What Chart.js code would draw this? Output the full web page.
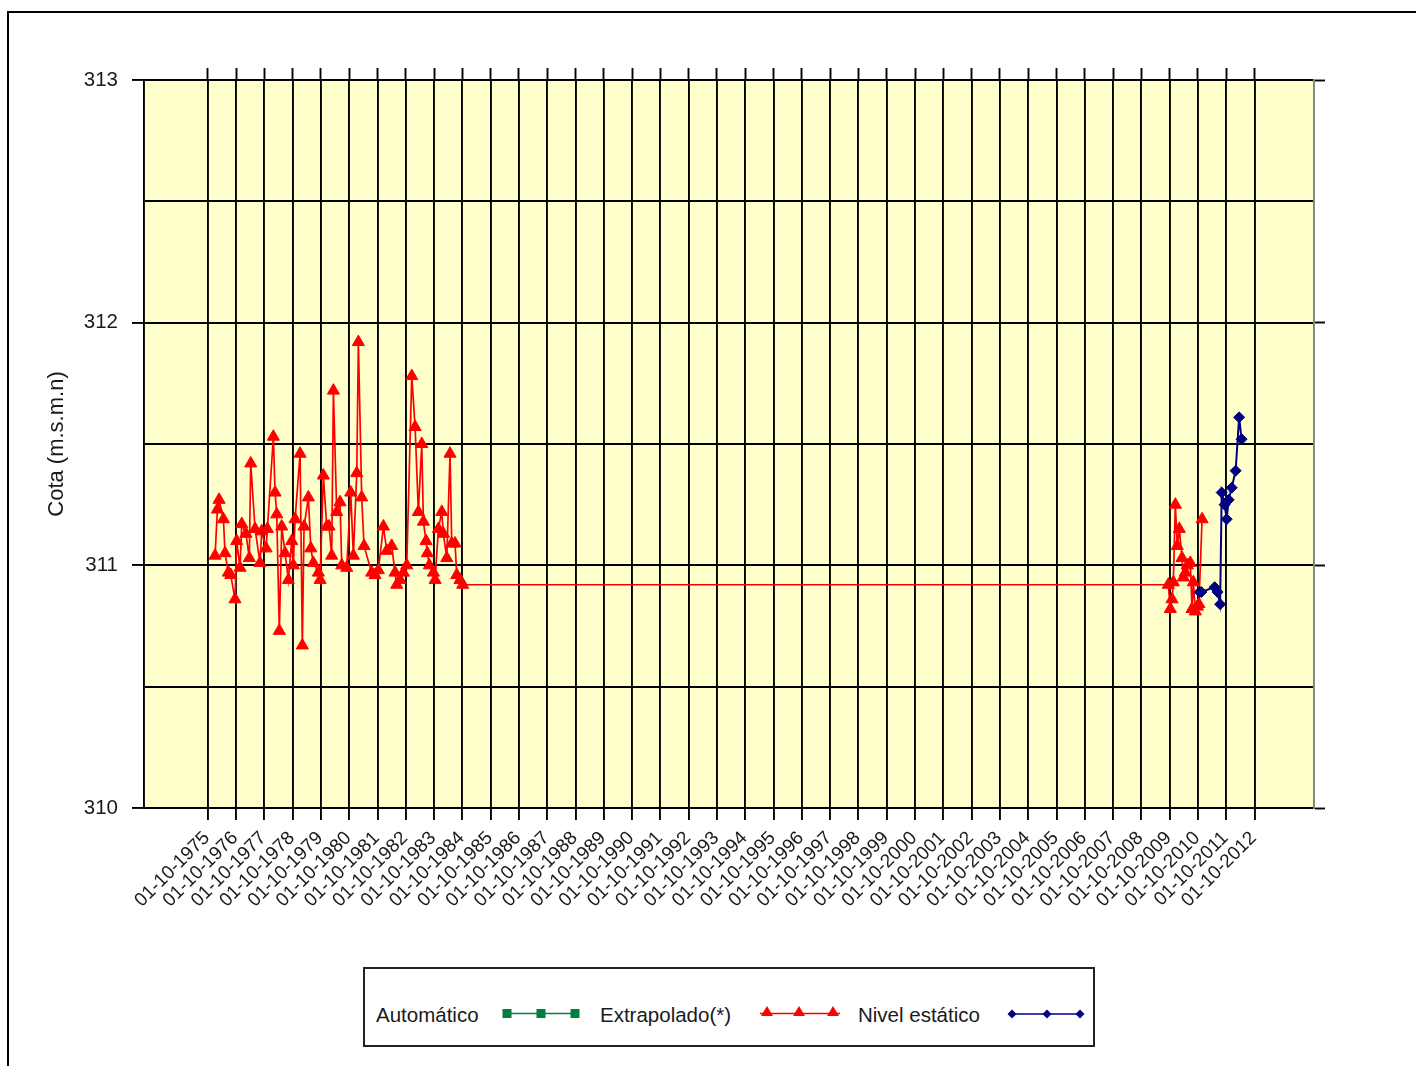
<!DOCTYPE html>
<html lang="es">
<head>
<meta charset="utf-8">
<title>Cota (m.s.m.n)</title>
<script src="https://cdn.jsdelivr.net/npm/chart.js@4.4.1/dist/chart.umd.min.js"></script>
<style>
  html, body { margin: 0; padding: 0; background: #fff; width: 1416px; height: 1066px; overflow: hidden; }
  #marco { position: absolute; left: 7px; top: 11px; width: 1500px; height: 1200px; border: 2px solid #000; box-sizing: border-box; }
  #grafico { position: absolute; left: 0; top: 0; }
  #leyenda { position: absolute; left: 363px; top: 967px; width: 732px; height: 80px; border: 2px solid #222;
             box-sizing: border-box; background: #fff; font: 20.5px "Liberation Sans", Arial, sans-serif; color: #1a1a1a; }
  #leyenda .t { position: absolute; top: 35px; line-height: 22px; white-space: nowrap; }
  #leyenda svg { position: absolute; top: 36px; overflow: visible; }
</style>
</head>
<body>
<div id="marco"></div>
<canvas id="grafico" width="1416" height="960"></canvas>
<div id="leyenda">
  <span class="t" style="left:11px">Automático</span>
  <svg style="left:135px" width="84" height="20">
    <line x1="7" y1="8.5" x2="75" y2="8.5" stroke="#008040" stroke-width="1.5"/>
    <rect x="2.5" y="4" width="9" height="9" fill="#008040"/>
    <rect x="36.5" y="4" width="9" height="9" fill="#008040"/>
    <rect x="70.5" y="4" width="9" height="9" fill="#008040"/>
  </svg>
  <span class="t" style="left:235px">Extrapolado(*)</span>
  <svg style="left:395px" width="84" height="20">
    <line x1="0" y1="8.5" x2="80" y2="8.5" stroke="#ff0000" stroke-width="1.5"/>
    <polygon points="1,11 13,11 7,1" fill="#ff0000"/>
    <polygon points="33,11 45,11 39,1" fill="#ff0000"/>
    <polygon points="67,11 79,11 73,1" fill="#ff0000"/>
  </svg>
  <span class="t" style="left:493px">Nivel estático</span>
  <svg style="left:641px" width="84" height="20">
    <line x1="6" y1="9" x2="76" y2="9" stroke="#000080" stroke-width="1.5"/>
    <polygon points="6,4.5 10.5,9 6,13.5 1.5,9" fill="#000080"/>
    <polygon points="41,4.5 45.5,9 41,13.5 36.5,9" fill="#000080"/>
    <polygon points="74,4.5 78.5,9 74,13.5 69.5,9" fill="#000080"/>
  </svg>
</div>
<script>
// Eje de fechas: una marca por año hidrológico (1 de octubre)
const etiquetasFechas = [
  '01-10-1975', '01-10-1976', '01-10-1977', '01-10-1978', '01-10-1979', '01-10-1980',
  '01-10-1981', '01-10-1982', '01-10-1983', '01-10-1984', '01-10-1985', '01-10-1986',
  '01-10-1987', '01-10-1988', '01-10-1989', '01-10-1990', '01-10-1991', '01-10-1992',
  '01-10-1993', '01-10-1994', '01-10-1995', '01-10-1996', '01-10-1997', '01-10-1998',
  '01-10-1999', '01-10-2000', '01-10-2001', '01-10-2002', '01-10-2003', '01-10-2004',
  '01-10-2005', '01-10-2006', '01-10-2007', '01-10-2008', '01-10-2009', '01-10-2010',
  '01-10-2011', '01-10-2012'
];
const rangoFechas = ['30-06-1973', '08-11-2014'];
const rangoCota = [310, 313];

// Serie "Automático": sin registros en el periodo
const automaticoFechas = [];
const automaticoCota = [];

// Serie "Extrapolado(*)"
const extrapoladoFechas = [
  '03-01-1976', '02-02-1976', '24-02-1976', '20-04-1976', '11-05-1976', '23-06-1976',
  '24-07-1976', '17-09-1976', '09-10-1976', '21-11-1976', '13-12-1976', '06-02-1977',
  '21-03-1977', '08-04-1977', '03-06-1977', '06-08-1977', '28-08-1977', '23-10-1977',
  '09-11-1977', '25-01-1978', '16-02-1978', '10-03-1978', '12-04-1978', '13-05-1978',
  '25-06-1978', '07-08-1978', '19-09-1978', '10-10-1978', '01-11-1978', '05-01-1979',
  '03-02-1979', '25-02-1979', '22-04-1979', '23-05-1979', '25-06-1979', '29-08-1979',
  '20-09-1979', '01-11-1979', '15-12-1979', '14-01-1980', '17-02-1980', '10-03-1980',
  '22-04-1980', '04-06-1980', '26-06-1980', '29-08-1980', '20-10-1980', '23-11-1980',
  '06-01-1981', '27-01-1981', '11-03-1981', '10-04-1981', '18-07-1981', '30-08-1981',
  '12-10-1981', '16-12-1981', '28-01-1982', '02-04-1982', '15-05-1982', '06-06-1982',
  '19-07-1982', '30-08-1982', '13-10-1982', '17-12-1982', '29-01-1983', '12-03-1983',
  '25-04-1983', '16-05-1983', '19-06-1983', '06-07-1983', '01-08-1983', '22-09-1983',
  '14-10-1983', '25-11-1983', '08-01-1984', '29-01-1984', '13-03-1984', '24-04-1984',
  '16-05-1984', '28-06-1984', '20-07-1984', '31-08-1984', '05-10-1984',
  '14-09-2009', '10-10-2009', '01-11-2009', '18-11-2009', '14-12-2009', '08-01-2010',
  '03-02-2010', '10-03-2010', '27-03-2010', '22-04-2010', '18-05-2010', '25-06-2010',
  '17-07-2010', '03-08-2010', '29-08-2010', '24-09-2010', '14-10-2010', '24-11-2010'
];
const extrapoladoCota = [
  311.04, 311.23, 311.27, 311.19, 311.05, 310.97,
  310.96, 310.86, 311.10, 310.99, 311.17, 311.13,
  311.03, 311.42, 311.15, 311.01, 311.14, 311.07,
  311.15, 311.53, 311.30, 311.21, 310.73, 311.16,
  311.05, 310.94, 311.10, 311.00, 311.19, 311.46,
  310.67, 311.16, 311.28, 311.07, 311.01, 310.97,
  310.94, 311.37, 311.16, 311.16, 311.04, 311.72,
  311.22, 311.26, 311.00, 310.99, 311.30, 311.04,
  311.38, 311.92, 311.28, 311.08, 310.97, 310.96,
  310.98, 311.16, 311.06, 311.08, 310.97, 310.92,
  310.94, 310.97, 311.00, 311.78, 311.57, 311.22,
  311.50, 311.18, 311.10, 311.05, 311.00, 310.97,
  310.94, 311.15, 311.22, 311.13, 311.03, 311.46,
  311.09, 311.09, 310.96, 310.94, 310.92,
  310.92, 310.82, 310.86, 310.93, 311.25, 311.08,
  311.15, 311.03, 310.95, 310.97, 311.00, 311.01,
  310.82, 310.93, 310.81, 310.83, 310.84, 311.19
];

// Serie "Nivel estático"
const nivelFechas = [
  '23-10-2010', '14-11-2010', '05-05-2011', '12-06-2011', '15-07-2011', '04-08-2011',
  '11-09-2011', '07-10-2011', '02-11-2011', '11-12-2011', '31-01-2012', '16-03-2012',
  '17-04-2012'
];
const nivelCota = [
  310.89, 310.89, 310.91, 310.89, 310.84, 311.30,
  311.25, 311.19, 311.27, 311.32, 311.39, 311.61,
  311.52
];

// 'dd-mm-aaaa' -> año decimal
function fechaADecimal(s) {
  const [d, m, a] = s.split('-').map(Number);
  const ini = Date.UTC(a, 0, 1), fin = Date.UTC(a + 1, 0, 1);
  return a + (Date.UTC(a, m - 1, d) - ini) / (fin - ini);
}
const puntos = (fechas, cotas) => fechas.map((f, i) => ({ x: fechaADecimal(f), y: cotas[i] }));

const marcasAnio = etiquetasFechas.map(fechaADecimal);
const fijarMarcas = scale => { scale.ticks = marcasAnio.map(v => ({ value: v })); };
const xMin = fechaADecimal(rangoFechas[0]);
const xMax = fechaADecimal(rangoFechas[1]);

const fuente = '"Liberation Sans", Arial, sans-serif';
const colorTexto = '#1a1a1a';
const grosor = 1.9;
const marcaEntera = ctx => (Number.isInteger(ctx.tick.value) ? '#000' : 'rgba(0,0,0,0)');

// Fondo amarillo del área de trazado
const fondoArea = {
  id: 'fondoArea',
  beforeDraw(chart) {
    const { ctx, chartArea: a } = chart;
    ctx.save();
    ctx.fillStyle = '#ffffcc';
    ctx.fillRect(a.left, a.top, a.right - a.left, a.bottom - a.top);
    ctx.restore();
  }
};

new Chart(document.getElementById('grafico'), {
  type: 'line',
  data: {
    datasets: [
      {
        label: 'Automático',
        data: puntos(automaticoFechas, automaticoCota),
        borderColor: '#008040', backgroundColor: '#008040',
        pointStyle: 'rect', pointRadius: 4.5, borderWidth: 1.5, order: 2
      },
      {
        label: 'Extrapolado(*)',
        data: puntos(extrapoladoFechas, extrapoladoCota),
        borderColor: '#ff0000', backgroundColor: '#ff0000',
        pointStyle: 'triangle', pointRadius: 7, pointBorderWidth: 1,
        borderWidth: 1.7, tension: 0, order: 1
      },
      {
        label: 'Nivel estático',
        data: puntos(nivelFechas, nivelCota),
        borderColor: '#000080', backgroundColor: '#000080',
        pointStyle: 'rectRot', pointRadius: 5.5, pointBorderWidth: 1,
        borderWidth: 2, tension: 0, order: 0
      }
    ]
  },
  options: {
    responsive: false,
    animation: false,
    layout: { padding: 0 },
    plugins: { legend: { display: false }, tooltip: { enabled: false } },
    scales: {
      x: {
        type: 'linear', position: 'bottom', min: xMin, max: xMax,
        afterBuildTicks: fijarMarcas,
        afterFit: s => { s.height = 152; },
        grid: { color: '#000', lineWidth: grosor, tickLength: 12, tickColor: '#000', tickWidth: grosor },
        border: { display: true, color: '#000', width: grosor },
        ticks: {
          autoSkip: false, minRotation: 45, maxRotation: 45, padding: 7, labelOffset: -1,
          color: colorTexto, font: { family: fuente, size: 19 },
          callback: (v, i) => etiquetasFechas[i]
        }
      },
      xTop: {
        type: 'linear', position: 'top', min: xMin, max: xMax,
        afterBuildTicks: fijarMarcas,
        afterFit: s => { s.height = 80; },
        grid: { drawOnChartArea: false, tickLength: 12, tickColor: '#000', tickWidth: grosor },
        border: { display: false },
        ticks: { display: false }
      },
      y: {
        type: 'linear', position: 'left', min: rangoCota[0], max: rangoCota[1],
        afterFit: s => { s.width = 144; },
        grid: { color: '#000', lineWidth: grosor, tickLength: 12, tickColor: marcaEntera, tickWidth: grosor },
        border: { display: true, color: '#000', width: grosor },
        ticks: {
          stepSize: 0.5, padding: 14, color: colorTexto, font: { family: fuente, size: 20.5 },
          callback: v => (Number.isInteger(v) ? String(v) : '')
        },
        title: {
          display: true, text: 'Cota (m.s.m.n)', color: colorTexto,
          font: { family: fuente, size: 22 }, padding: { top: 44, bottom: 0 }
        }
      },
      yRight: {
        type: 'linear', position: 'right', min: rangoCota[0], max: rangoCota[1],
        afterFit: s => { s.width = 102; },
        grid: { drawOnChartArea: false, tickLength: 11, tickColor: marcaEntera, tickWidth: grosor },
        border: { display: true, color: '#808080', width: grosor },
        ticks: { display: false, stepSize: 0.5 }
      }
    }
  },
  plugins: [fondoArea]
});
</script>
</body>
</html>
